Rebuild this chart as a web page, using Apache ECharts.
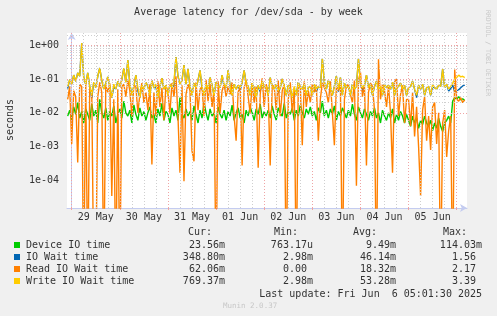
<!DOCTYPE html>
<html>
<head>
<meta charset="utf-8">
<script src="https://cdn.jsdelivr.net/npm/echarts@6/dist/echarts.min.js"></script>
<style>
  html, body { margin: 0; padding: 0; background: #f0f0f0; }
  #chart { width: 497px; height: 316px; }
</style>
</head>
<body>
<div id="chart"></div>
<script>
// samples: one per hour, x = hours since 29 May 00:00
const startHour = -2
const stepHour = 1

// values in milliseconds
const deviceIO = [
  8, 12, 6, 15, 9, 20, 7, 11, 5, 13,
  9, 6, 18, 8, 12, 5, 25, 10, 7, 14,
  6, 11, 8, 16, 5, 9, 13, 7, 22, 10,
  8, 12, 5, 17, 9, 6, 14, 8, 11, 6,
  10, 15, 7, 9, 5, 13, 8, 19, 6, 11,
  9, 5, 14, 8, 12, 6, 28, 9, 7, 13,
  8, 11, 6, 16, 9, 5, 12, 7, 20, 10,
  6, 13, 8, 10, 5, 15, 9, 7, 12, 6,
  11, 8, 17, 6, 10, 14, 7, 9, 5, 12,
  8, 15, 10, 6, 13, 9, 18, 7, 11, 8,
  12, 7, 16, 9, 6, 14, 10, 8, 19, 7,
  11, 9, 14, 6, 12, 8, 17, 10, 7, 13,
  9, 15, 8, 11, 6, 14, 10, 22, 8, 12,
  7, 13, 9, 16, 6, 11, 8, 14, 10, 7,
  12, 8, 18, 9, 6, 15, 10, 7, 13, 9,
  6, 11, 8, 14, 7, 10, 5, 12, 8, 6,
  10, 7, 13, 5, 9, 6, 11, 8, 5, 9,
  6, 4, 8, 5, 7, 3.5, 6, 4.5, 8, 5,
  4, 6, 3, 5, 3.5, 7, 4, 2.8, 5, 6,
  8, 5, 22, 28, 25, 30, 24, 26, 23
]
const ioWait = [
  52, 95, 70, 130, 85, 150, 120, 1150, 110, 70,
  150, 60, 27, 80, 55, 120, 210, 90, 50, 75,
  115, 60, 28, 58, 50, 85, 60, 95, 210, 80,
  360, 70, 33, 60, 130, 45, 28, 65, 50, 80,
  60, 33, 90, 55, 58, 28, 60, 105, 50, 65,
  33, 70, 55, 65, 440, 120, 70, 90, 255, 70,
  200, 60, 33, 75, 55, 90, 180, 50, 33, 70,
  50, 110, 65, 33, 80, 60, 55, 130, 58, 55,
  180, 60, 33, 70, 50, 65, 45, 80, 180, 75,
  60, 33, 75, 55, 28, 65, 42, 85, 55, 60,
  33, 110, 60, 50, 70, 38, 55, 100, 60, 33,
  65, 50, 28, 50, 33, 80, 55, 50, 70, 33,
  55, 60, 33, 70, 42, 60, 55, 390, 80, 50,
  90, 55, 33, 60, 120, 42, 110, 33, 75, 55,
  60, 33, 70, 50, 60, 390, 75, 45, 65, 130,
  55, 70, 33, 60, 85, 50, 50, 33, 70, 55,
  65, 50, 80, 33, 55, 60, 75, 50, 65, 33,
  55, 60, 85, 50, 28, 65, 50, 70, 33, 55,
  60, 33, 58, 55, 50, 65, 60, 195, 55, 70,
  44, 52, 66, 42, 45, 48, 55, 62, 66
]
const readWait = [
  25, 60, 1.2, 45, 30, 0.34, 70, 60, 0, 85,
  0, 55, 45, 0, 0, 30, 80, 40, 0, 65,
  40, 75, 0.035, 25, 0, 50, 0, 60, 70, 30,
  90, 45, 8, 65, 60, 10, 35, 75, 20, 40,
  12, 70, 0.3, 40, 8, 85, 15, 55, 6, 65,
  40, 10, 75, 30, 120, 8, 0.17, 65, 0.095, 35,
  70, 45, 0.75, 0.37, 80, 12, 50, 60, 8, 95,
  22, 70, 15, 50, 0, 85, 10, 45, 70, 30,
  60, 35, 80, 8, 1.5, 40, 65, 0.28, 55, 90,
  30, 10, 75, 20, 60, 0.24, 35, 105, 15, 70,
  40, 0.28, 65, 60, 12, 90, 8, 45, 70, 0,
  25, 80, 10, 55, 0, 70, 60, 1.1, 85, 15,
  45, 20, 70, 40, 65, 1.5, 25, 80, 55, 40,
  20, 85, 10, 1.1, 60, 45, 75, 0, 25, 60,
  70, 35, 20, 90, 0.07, 90, 160, 30, 65, 0.28,
  40, 75, 60, 12, 0, 380, 25, 70, 45, 15,
  60, 10, 0.17, 80, 100, 8, 35, 65, 5, 25,
  25, 4, 40, 2, 15, 1, 0.035, 12, 30, 1.5,
  8, 0.8, 15, 20, 1.2, 10, 0, 5, 12, 0.5,
  3, 8, 0, 190, 25, 22, 28, 20, 24
]
const writeWait = [
  60, 95, 70, 130, 85, 150, 120, 1150, 110, 70,
  150, 60, 33, 80, 55, 120, 210, 90, 50, 75,
  115, 60, 28, 70, 50, 85, 60, 95, 210, 80,
  360, 70, 33, 60, 130, 55, 28, 65, 50, 80,
  60, 33, 90, 55, 70, 28, 60, 105, 50, 65,
  33, 70, 55, 80, 440, 120, 70, 90, 255, 70,
  200, 60, 33, 75, 55, 90, 180, 60, 33, 70,
  50, 110, 65, 33, 80, 60, 55, 130, 70, 55,
  180, 60, 33, 70, 50, 65, 55, 80, 180, 75,
  60, 33, 75, 55, 28, 65, 50, 85, 55, 60,
  33, 110, 60, 50, 70, 45, 55, 100, 60, 33,
  65, 50, 28, 60, 33, 80, 55, 50, 70, 33,
  55, 60, 33, 70, 50, 60, 55, 390, 80, 50,
  90, 55, 33, 60, 120, 50, 110, 33, 75, 55,
  60, 33, 70, 50, 60, 390, 75, 55, 65, 130,
  55, 70, 33, 60, 85, 50, 60, 33, 70, 55,
  65, 50, 80, 33, 55, 60, 75, 50, 65, 33,
  55, 60, 85, 50, 33, 65, 50, 70, 33, 55,
  60, 33, 70, 55, 50, 65, 60, 195, 55, 70,
  50, 60, 75, 100, 110, 130, 115, 120, 110
]

const dayLabels = ['29 May', '30 May', '31 May', '01 Jun', '02 Jun', '03 Jun', '04 Jun', '05 Jun']
const dayLabelHours = [12, 36, 60, 84, 108, 132, 156, 180]
const yTickValues = [1e-4, 1e-3, 1e-2, 1e-1, 1]
const yTickLabels = ['1e-04', '1e-03', '1e-02', '1e-01', '1e+00']

const legendNames = ['Device IO time', 'IO Wait time', 'Read IO Wait time', 'Write IO Wait time']
const legendColors = ['#00cc00', '#0066b3', '#ff8000', '#ffcc00']
const curVals = ['23.56m', '348.80m', '62.06m', '769.37m']
const minVals = ['763.17u', '2.98m', '0.00 ', '2.98m']
const avgVals = ['9.49m', '46.14m', '18.32m', '53.28m']
const maxVals = ['114.03m', '1.56 ', '2.17 ', '3.39 ']

const xMin = -2.34
const xMax = 197.14
const yMin = 1.55e-5
const yMax = 2.27

const font = 'DejaVu Sans Mono'
const textColor = '#333'

// ms -> s; zero drops below the log axis, like rrdtool does
function toPoints(arr) {
  return arr.map((v, i) => [startHour + i * stepHour, v > 0 ? v / 1000 : 1e-7])
}

// grid lines (rrdtool style: grey minor, red major)
const gridLines = []
const minorStyle = { color: '#cfcfcf', type: [1, 2], width: 1 }
const majorStyle = { color: '#efa5a5', type: [1, 2], width: 1 }
for (let h = 6; h < xMax; h += 6) {
  gridLines.push({ xAxis: h, lineStyle: h % 24 === 0 ? majorStyle : minorStyle })
}
gridLines.push({ xAxis: 0, lineStyle: majorStyle })
for (let e = -5; e <= 0; e++) {
  for (let m = 1; m <= 9; m++) {
    const v = m * Math.pow(10, e)
    if (v < yMin || v > yMax) continue
    gridLines.push({ yAxis: v, lineStyle: m === 1 ? majorStyle : minorStyle })
  }
}

const chart = echarts.init(document.getElementById('chart'))

const seriesData = [deviceIO, ioWait, readWait, writeWait]

const series = [{
  name: 'grid',
  type: 'line',
  data: [],
  z: 1,
  silent: true,
  markLine: {
    silent: true,
    symbol: 'none',
    label: { show: false },
    emphasis: { disabled: true },
    animation: false,
    data: gridLines
  }
}]
seriesData.forEach((arr, k) => {
  series.push({
    name: legendNames[k],
    type: 'line',
    data: toPoints(arr),
    showSymbol: false,
    symbol: 'none',
    z: 2,
    lineStyle: { color: legendColors[k], width: 1.4 },
    itemStyle: { color: legendColors[k] },
    emphasis: { disabled: true }
  })
})

const graphic = [
  {
    type: 'text', x: 10, y: 120, rotation: Math.PI / 2,
    style: { text: 'seconds', font: '10px ' + font, fill: textColor, align: 'center', verticalAlign: 'middle' }
  },
  {
    type: 'text', x: 488, y: 53, rotation: -Math.PI / 2,
    style: { text: 'RRDTOOL / TOBI OETIKER', font: '6.5px ' + font, fill: '#c8c8c8', align: 'center', verticalAlign: 'middle' }
  },
  { type: 'text', x: 212, y: 232, style: { text: 'Cur:', font: '10px ' + font, fill: textColor, align: 'right', verticalAlign: 'middle' } },
  { type: 'text', x: 298, y: 232, style: { text: 'Min:', font: '10px ' + font, fill: textColor, align: 'right', verticalAlign: 'middle' } },
  { type: 'text', x: 377, y: 232, style: { text: 'Avg:', font: '10px ' + font, fill: textColor, align: 'right', verticalAlign: 'middle' } },
  { type: 'text', x: 467, y: 232, style: { text: 'Max:', font: '10px ' + font, fill: textColor, align: 'right', verticalAlign: 'middle' } },
  { type: 'text', x: 482, y: 294, style: { text: 'Last update: Fri Jun  6 05:01:30 2025', font: '10px ' + font, fill: textColor, align: 'right', verticalAlign: 'middle' } },
  { type: 'text', x: 223, y: 306, style: { text: 'Munin 2.0.37', font: '7.5px ' + font, fill: '#c8c8c8', align: 'left', verticalAlign: 'middle' } }
]
legendNames.forEach((name, k) => {
  const y = 245 + k * 12
  graphic.push({ type: 'rect', shape: { x: 14, y: y - 3, width: 6, height: 6 }, style: { fill: legendColors[k] } })
  graphic.push({ type: 'text', x: 26, y: y, style: { text: name, font: '10px ' + font, fill: textColor, align: 'left', verticalAlign: 'middle' } })
  const cols = [[225, curVals], [313, minVals], [396, avgVals], [482, maxVals]]
  cols.forEach(([cx, vals]) => {
    graphic.push({ type: 'text', x: cx, y: y, style: { text: vals[k], font: '10px ' + font, fill: textColor, align: 'right', verticalAlign: 'middle' } })
  })
})

const option = {
  backgroundColor: '#f0f0f0',
  animation: false,
  title: {
    text: 'Average latency for /dev/sda - by week',
    left: 'center',
    top: 2,
    textStyle: { fontFamily: font, fontSize: 10, fontWeight: 'normal', color: textColor }
  },
  grid: {
    left: 67, right: 30, top: 33, bottom: 108,
    show: true, backgroundColor: '#ffffff', borderWidth: 0,
    containLabel: false, outerBoundsMode: 'none'
  },
  xAxis: {
    type: 'value',
    min: xMin,
    max: xMax,
    axisLine: { show: true, lineStyle: { color: '#c4ccf0', width: 1 }, symbol: ['none', 'arrow'], symbolSize: [6, 7] },
    axisTick: { show: true, customValues: [0, 24, 48, 72, 96, 120, 144, 168, 192], length: 2, lineStyle: { color: '#efa5a5' } },
    splitLine: { show: false },
    axisLabel: {
      customValues: dayLabelHours,
      formatter: v => dayLabels[dayLabelHours.indexOf(Math.round(v))] || '',
      fontFamily: font, fontSize: 10, color: textColor, margin: 4
    }
  },
  yAxis: {
    type: 'log',
    logBase: 10,
    min: yMin,
    max: yMax,
    axisLine: { show: true, lineStyle: { color: '#c4ccf0', width: 1 }, symbol: ['none', 'arrow'], symbolSize: [6, 7] },
    axisTick: { show: false },
    splitLine: { show: false },
    minorSplitLine: { show: false },
    axisLabel: {
      customValues: yTickValues,
      formatter: v => {
        const e = Math.log10(v)
        if (Math.abs(e - Math.round(e)) > 1e-6) return ''
        const idx = yTickValues.findIndex(t => Math.abs(Math.log10(t) - e) < 1e-6)
        return idx >= 0 ? yTickLabels[idx] : ''
      },
      fontFamily: font, fontSize: 10, color: textColor, margin: 8
    }
  },
  series: series,
  graphic: graphic
}

chart.setOption(option)
</script>
</body>
</html>
